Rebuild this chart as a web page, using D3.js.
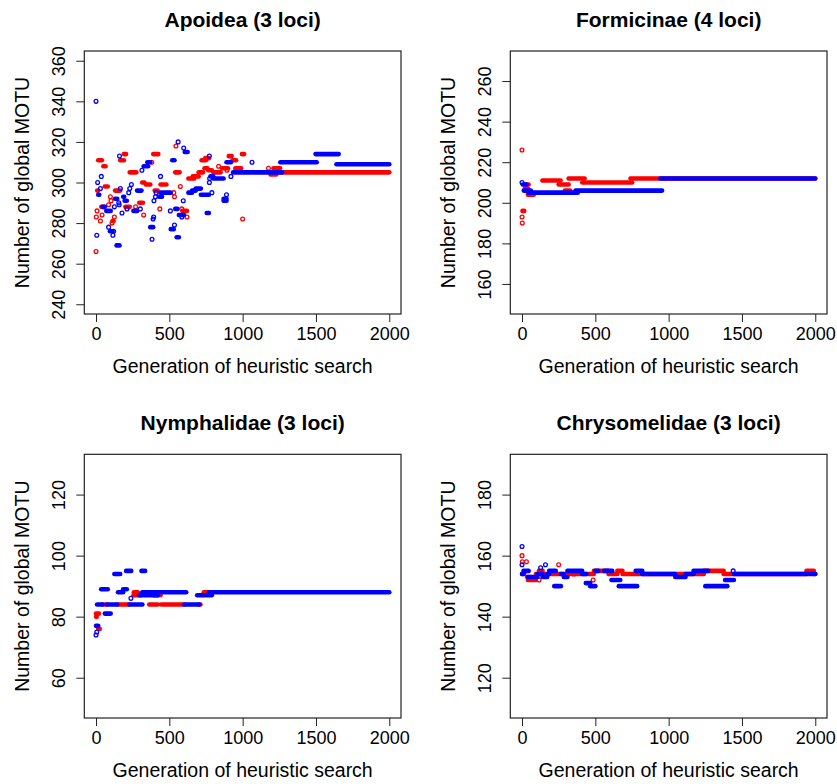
<!DOCTYPE html>
<html>
<head>
<meta charset="utf-8">
<script src="https://cdn.jsdelivr.net/npm/d3@7"></script>
<style>
  body { margin: 0; background: #fff; }
  svg { display: block; font-family: "Liberation Sans", Arial, Helvetica, sans-serif; }
</style>
</head>
<body>
<svg id="chart" width="837" height="784"></svg>
<script>
// Runs of the search: [first generation, last generation, global MOTU]
// a run with first == last is a single generation (drawn as an open circle)
var xTicks = [0, 500, 1000, 1500, 2000];

var apoideaTitle = 'Apoidea (3 loci)';
var apoideaYTicks = [240, 260, 280, 300, 320, 340, 360];
var apoideaRed = [
  [0, 0, 266], [2, 2, 283], [7, 7, 286], [8, 14, 296], [15, 40, 311], [30, 30, 281], [41, 41, 284],
  [36, 58, 288], [50, 65, 308], [60, 80, 298], [86, 86, 289], [98, 98, 293], [102, 102, 291],
  [109, 109, 280], [112, 120, 281], [125, 125, 283], [130, 165, 296], [165, 190, 311], [190, 205, 314],
  [200, 230, 288], [230, 275, 305], [270, 270, 288], [295, 320, 290], [315, 330, 300], [325, 325, 284],
  [340, 370, 299], [380, 380, 310], [390, 425, 314], [400, 420, 296], [435, 435, 287], [440, 480, 299],
  [530, 530, 295], [535, 535, 293], [545, 545, 318], [540, 570, 305], [575, 575, 298], [585, 585, 287],
  [590, 620, 286], [620, 620, 283], [630, 670, 302], [660, 700, 303], [700, 730, 305], [720, 750, 311],
  [745, 770, 312], [740, 760, 307], [765, 790, 306], [800, 850, 305], [836, 836, 308], [860, 900, 307],
  [893, 893, 306], [905, 925, 313], [930, 955, 311], [950, 990, 307], [995, 1010, 314], [1000, 1000, 282],
  [1176, 1176, 307], [1190, 1230, 304], [1210, 1255, 307], [1255, 2000, 305]
];
var apoideaBlue = [
  [0, 0, 340], [5, 5, 274], [11, 11, 300], [15, 22, 294], [30, 30, 297], [36, 36, 303], [45, 60, 288],
  [70, 100, 286], [86, 86, 278], [95, 112, 276], [115, 115, 274], [120, 120, 276], [125, 125, 288],
  [130, 145, 292], [140, 160, 269], [155, 155, 290], [158, 158, 289], [160, 160, 313], [166, 166, 297],
  [177, 177, 285], [185, 192, 293], [195, 210, 291], [211, 211, 287], [223, 223, 295], [230, 230, 297],
  [241, 241, 299], [255, 280, 286], [280, 310, 296], [302, 302, 287], [313, 313, 306], [325, 355, 308],
  [350, 370, 310], [370, 390, 278], [382, 382, 272], [389, 389, 282], [393, 393, 283], [395, 395, 291],
  [405, 405, 293], [410, 410, 295], [430, 450, 293], [440, 440, 303], [440, 510, 295], [507, 507, 286],
  [510, 530, 277], [520, 535, 311], [535, 535, 279], [540, 555, 287], [550, 565, 273], [560, 560, 320],
  [565, 600, 284], [585, 585, 283], [595, 595, 291], [598, 598, 317], [605, 625, 315], [630, 655, 295],
  [655, 680, 296], [680, 715, 297], [715, 770, 294], [755, 770, 285], [773, 773, 300], [775, 775, 302],
  [773, 773, 313], [780, 800, 303], [790, 790, 295], [800, 870, 302], [870, 890, 292], [870, 890, 291],
  [890, 890, 294], [890, 920, 310], [920, 920, 303], [935, 1270, 305], [1064, 1064, 310],
  [1257, 1505, 310], [1497, 1655, 314], [1640, 2000, 309]
];

var formicinaeTitle = 'Formicinae (4 loci)';
var formicinaeYTicks = [160, 180, 200, 220, 240, 260];
var formicinaeRed = [
  [0, 0, 226], [0, 0, 193], [2, 2, 190], [3, 15, 196], [25, 45, 209], [20, 40, 207], [40, 80, 204],
  [139, 263, 211], [250, 318, 209], [292, 329, 206], [318, 427, 212], [411, 751, 210], [740, 2000, 212]
];
var formicinaeBlue = [
  [0, 0, 210], [5, 30, 209], [12, 60, 206], [45, 380, 205], [365, 955, 206], [943, 2000, 212]
];

var nymphalidaeTitle = 'Nymphalidae (3 loci)';
var nymphalidaeYTicks = [60, 80, 100, 120];
var nymphalidaeRed = [
  [0, 20, 81], [0, 5, 80], [15, 25, 76], [45, 77, 84], [145, 227, 84], [255, 305, 87], [258, 285, 88],
  [330, 375, 88], [363, 420, 84], [395, 440, 87], [443, 602, 84], [700, 712, 84], [735, 775, 88]
];
var nymphalidaeBlue = [
  [0, 0, 74], [5, 5, 75], [0, 15, 77], [7, 45, 84], [35, 80, 89], [60, 100, 81], [77, 145, 84],
  [125, 165, 94], [150, 185, 88], [185, 210, 89], [205, 240, 95], [227, 316, 84], [238, 238, 86],
  [295, 420, 87], [310, 335, 95], [315, 615, 88], [602, 705, 84], [690, 790, 87], [770, 2000, 88]
];

var chrysomelidaeTitle = 'Chrysomelidae (3 loci)';
var chrysomelidaeYTicks = [120, 140, 160, 180];
var chrysomelidaeRed = [
  [0, 0, 160], [2, 2, 158], [30, 30, 158], [0, 15, 154], [35, 60, 153], [40, 95, 152], [95, 115, 154],
  [116, 116, 152], [115, 140, 155], [140, 490, 154], [250, 250, 157], [354, 354, 154], [485, 485, 152],
  [490, 590, 155], [590, 650, 154], [650, 685, 155], [685, 1240, 154], [1240, 1375, 155],
  [1375, 1940, 154], [1940, 1990, 155], [1990, 2000, 154]
];
var chrysomelidaeBlue = [
  [0, 0, 163], [0, 0, 157], [0, 10, 154], [10, 45, 155], [40, 105, 153], [105, 140, 154], [127, 127, 156],
  [140, 172, 153], [160, 160, 157], [172, 185, 154], [185, 230, 155], [220, 265, 150], [265, 285, 154],
  [285, 310, 153], [310, 410, 155], [410, 440, 154], [435, 465, 151], [465, 500, 150], [500, 520, 155],
  [560, 615, 155], [610, 670, 152], [660, 785, 150], [775, 820, 155], [820, 1045, 154], [1045, 1115, 153],
  [1115, 1170, 154], [1170, 1270, 155], [1250, 1400, 150], [1385, 1445, 152], [1440, 1440, 155],
  [1445, 2000, 154]
];

var xLabel = 'Generation of heuristic search';
var yLabel = 'Number of global MOTU';

var svg = d3.select('#chart');

// R style panel: box, outward ticks, rotated y tick labels, points then blue on top
function drawPanel(p) {
  var xScale = d3.scaleLinear().domain([-80, 2080]).range([p.left, p.right]);
  var pad = (p.yLim[1] - p.yLim[0]) * 0.04;
  var yScale = d3.scaleLinear().domain([p.yLim[0] - pad, p.yLim[1] + pad]).range([p.bottom, p.top]);
  var g = svg.append('g');

  var xAxis = d3.axisBottom(xScale).tickValues(xTicks).tickSize(8).tickPadding(4).tickFormat(d3.format('d'));
  var gx = g.append('g').attr('transform', 'translate(0,' + p.bottom + ')').call(xAxis);
  gx.select('.domain').remove();
  gx.selectAll('line').attr('stroke', '#222');
  gx.selectAll('text').attr('font-size', 18).attr('fill', '#000').attr('y', 26).attr('dy', 0);

  var yAxis = d3.axisLeft(yScale).tickValues(p.yTicks).tickSize(8).tickFormat(d3.format('d'));
  var gy = g.append('g').attr('transform', 'translate(' + p.left + ',0)').call(yAxis);
  gy.select('.domain').remove();
  gy.selectAll('line').attr('stroke', '#222');
  gy.selectAll('text')
    .attr('font-size', 18).attr('fill', '#000')
    .attr('x', 0).attr('y', 0).attr('dy', 0)
    .attr('text-anchor', 'middle')
    .attr('transform', 'translate(-19,0) rotate(-90)');

  g.append('rect')
    .attr('x', p.left).attr('y', p.top)
    .attr('width', p.right - p.left).attr('height', p.bottom - p.top)
    .attr('fill', 'none').attr('stroke', '#222').attr('stroke-width', 1.2);

  [[p.red, '#ff0000'], [p.blue, '#0000ff']].forEach(function (s) {
    var runs = s[0].filter(function (d) { return d[1] > d[0]; });
    var singles = s[0].filter(function (d) { return d[1] === d[0]; });
    g.append('g').selectAll('line').data(runs).enter().append('line')
      .attr('x1', function (d) { return xScale(d[0]); })
      .attr('x2', function (d) { return xScale(d[1]); })
      .attr('y1', function (d) { return yScale(d[2]); })
      .attr('y2', function (d) { return yScale(d[2]); })
      .attr('stroke', s[1]).attr('stroke-width', 4.6).attr('stroke-linecap', 'round');
    g.append('g').selectAll('circle').data(singles).enter().append('circle')
      .attr('cx', function (d) { return xScale(d[0]); })
      .attr('cy', function (d) { return yScale(d[2]); })
      .attr('r', 1.9)
      .attr('fill', 'none').attr('stroke', s[1]).attr('stroke-width', 1.3);
  });

  var cx = (p.left + p.right) / 2;
  g.append('text').attr('x', cx).attr('y', p.top - 24)
    .attr('text-anchor', 'middle').attr('font-size', 21).attr('font-weight', 'bold')
    .text(p.title);
  g.append('text').attr('x', cx).attr('y', p.bottom + 59)
    .attr('text-anchor', 'middle').attr('font-size', 19.5)
    .text(xLabel);
  g.append('text')
    .attr('transform', 'translate(' + (p.left - 55) + ',' + ((p.top + p.bottom) / 2) + ') rotate(-90)')
    .attr('text-anchor', 'middle').attr('font-size', 19.5)
    .text(yLabel);
}

drawPanel({ title: apoideaTitle, yLim: [240, 360], yTicks: apoideaYTicks, red: apoideaRed, blue: apoideaBlue,
  left: 84.3, right: 401, top: 51, bottom: 314 });
drawPanel({ title: formicinaeTitle, yLim: [150, 270], yTicks: formicinaeYTicks, red: formicinaeRed, blue: formicinaeBlue,
  left: 510.3, right: 827, top: 51, bottom: 314 });
drawPanel({ title: nymphalidaeTitle, yLim: [50, 130], yTicks: nymphalidaeYTicks, red: nymphalidaeRed, blue: nymphalidaeBlue,
  left: 84.3, right: 401, top: 454.3, bottom: 718 });
drawPanel({ title: chrysomelidaeTitle, yLim: [110, 190], yTicks: chrysomelidaeYTicks, red: chrysomelidaeRed, blue: chrysomelidaeBlue,
  left: 510.3, right: 827, top: 454.3, bottom: 718 });
</script>
</body>
</html>
